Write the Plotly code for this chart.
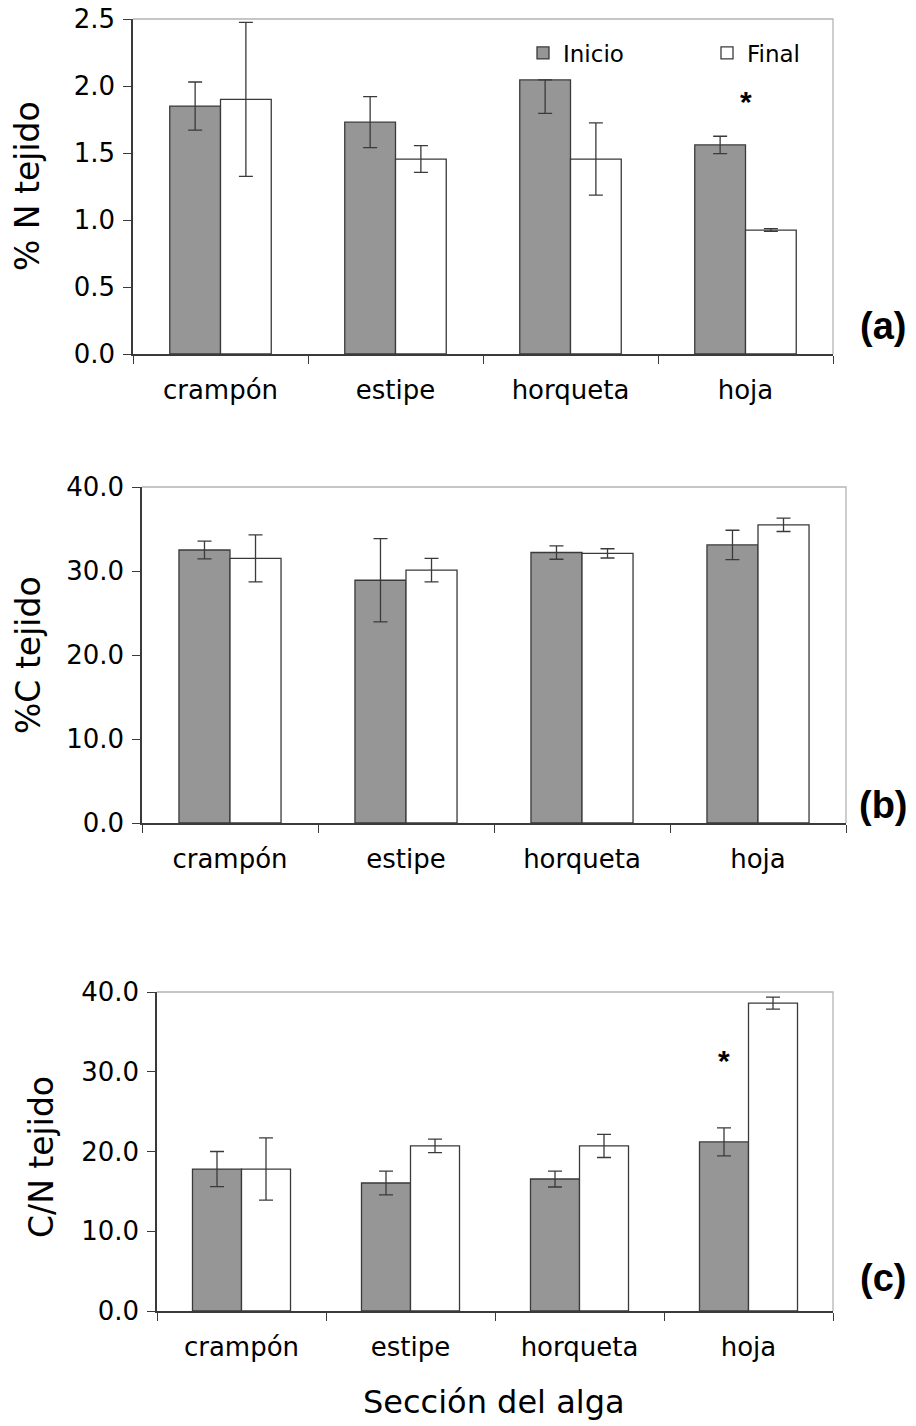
import plotly.graph_objects as go

# Sections of the alga
categories = ["crampón", "estipe", "horqueta", "hoja"]

# (a) % N in tissue
n_inicio = [1.85, 1.73, 2.045, 1.56]
n_inicio_err_plus = [0.18, 0.19, 0.0, 0.065]
n_inicio_err_minus = [0.18, 0.19, 0.25, 0.065]
n_final = [1.90, 1.455, 1.455, 0.925]
n_final_err = [0.575, 0.10, 0.27, 0.01]

# (b) % C in tissue
c_inicio = [32.5, 28.9, 32.2, 33.1]
c_inicio_err = [1.05, 4.95, 0.8, 1.75]
c_final = [31.5, 30.1, 32.1, 35.5]
c_final_err = [2.8, 1.4, 0.55, 0.8]

# (c) C/N ratio in tissue
cn_inicio = [17.8, 16.05, 16.55, 21.2]
cn_inicio_err = [2.2, 1.5, 1.0, 1.75]
cn_final = [17.8, 20.7, 20.7, 38.6]
cn_final_err = [3.9, 0.85, 1.45, 0.75]

W, H = 916, 1426
FONT = "DejaVu Sans"
DARK = "#3a3a3a"
GREY_FILL = "#969696"

# Plot areas in pixels: (left, top, right, bottom)
panels = [
    (133, 19, 833, 354),
    (142, 487, 846, 823),
    (157, 992, 833, 1311),
]


def xdom(p):
    return [p[0] / W, p[2] / W]


def ydom(p):
    return [1 - p[3] / H, 1 - p[1] / H]


fig = go.Figure()


def add_pair(idx, ini, ini_plus, ini_minus, fin, fin_err, show_legend):
    xa = "x" if idx == 1 else f"x{idx}"
    ya = "y" if idx == 1 else f"y{idx}"
    fig.add_trace(go.Bar(
        x=categories, y=ini, name="Inicio", xaxis=xa, yaxis=ya,
        marker=dict(color=GREY_FILL, line=dict(color=DARK, width=1.3)),
        error_y=dict(type="data", symmetric=False, array=ini_plus, arrayminus=ini_minus,
                     color=DARK, thickness=1.3, width=7),
        showlegend=show_legend, legendgroup="ini", offsetgroup="ini",
    ))
    fig.add_trace(go.Bar(
        x=categories, y=fin, name="Final", xaxis=xa, yaxis=ya,
        marker=dict(color="white", line=dict(color=DARK, width=1.3)),
        error_y=dict(type="data", array=fin_err, color=DARK, thickness=1.3, width=7),
        showlegend=show_legend, legendgroup="fin", offsetgroup="fin",
    ))


add_pair(1, n_inicio, n_inicio_err_plus, n_inicio_err_minus, n_final, n_final_err, True)
add_pair(2, c_inicio, c_inicio_err, c_inicio_err, c_final, c_final_err, False)
add_pair(3, cn_inicio, cn_inicio_err, cn_inicio_err, cn_final, cn_final_err, False)

y_ranges = [[0, 2.5], [0, 40], [0, 40]]
y_dticks = [0.5, 10, 10]

layout = dict(
    width=W, height=H,
    margin=dict(l=0, r=0, t=0, b=0, pad=0, autoexpand=False),
    paper_bgcolor="white", plot_bgcolor="white",
    barmode="group", bargap=0.42, bargroupgap=0,
    font=dict(family=FONT, color="black"),
    legend=dict(
        orientation="h", x=523 / W, y=1 - 53 / H, xanchor="left", yanchor="middle",
        font=dict(family=FONT, size=23, color="black"),
        entrywidth=139, entrywidthmode="pixels",
        bgcolor="rgba(0,0,0,0)", itemclick=False, tracegroupgap=0,
    ),
    shapes=[], annotations=[],
)

for i, p in enumerate(panels, start=1):
    xk = "xaxis" if i == 1 else f"xaxis{i}"
    yk = "yaxis" if i == 1 else f"yaxis{i}"
    ya = "y" if i == 1 else f"y{i}"
    xa = "x" if i == 1 else f"x{i}"
    layout[xk] = dict(
        domain=xdom(p), anchor=ya, type="category",
        showline=True, linecolor=DARK, linewidth=1.5,
        ticks="outside", tickson="boundaries", ticklen=8, tickcolor=DARK, tickwidth=1.3,
        tickfont=dict(family=FONT, size=26, color="black"),
        ticklabelstandoff=12, showgrid=False, zeroline=False, fixedrange=True,
    )
    layout[yk] = dict(
        domain=ydom(p), anchor=xa, range=y_ranges[i - 1], dtick=y_dticks[i - 1],
        tick0=0, tickformat=".1f",
        showline=True, linecolor=DARK, linewidth=1.5,
        ticks="outside", ticklen=8, tickcolor=DARK, tickwidth=1.3,
        tickfont=dict(family=FONT, size=26, color="black"),
        ticklabelstandoff=3, showgrid=False, zeroline=False, fixedrange=True,
    )
    # light frame on the top and right sides of each panel
    layout["shapes"].append(dict(
        type="path", xref="paper", yref="paper", layer="below",
        path=f"M {p[0]/W} {1-p[1]/H} L {p[2]/W} {1-p[1]/H} L {p[2]/W} {1-p[3]/H}",
        line=dict(color="#b4b4b4", width=1.3),
    ))

# Axis titles
titles = [("% N tejido", 27, 186), ("%C tejido", 28, 655), ("C/N tejido", 41, 1157)]
for text, px, py in titles:
    layout["annotations"].append(dict(
        text=text, xref="paper", yref="paper", x=px / W, y=1 - py / H,
        textangle=-90, showarrow=False, xanchor="center", yanchor="middle",
        font=dict(family=FONT, size=33, color="black"),
    ))

layout["annotations"].append(dict(
    text="Sección del alga", xref="paper", yref="paper", x=494 / W, y=1 - 1402 / H,
    showarrow=False, xanchor="center", yanchor="middle",
    font=dict(family=FONT, size=32, color="black"),
))

# Panel letters
for text, py in [("(a)", 326), ("(b)", 805), ("(c)", 1278)]:
    layout["annotations"].append(dict(
        text=f"<b>{text}</b>", xref="paper", yref="paper", x=883 / W, y=1 - py / H,
        showarrow=False, xanchor="center", yanchor="middle",
        font=dict(family="Liberation Sans", size=38, color="black"),
    ))

# Significance marks
layout["annotations"].append(dict(
    text="<b>*</b>", xref="x", yref="y", x="hoja", y=1.91,
    showarrow=False, xanchor="center", yanchor="middle", yshift=-3,
    font=dict(family="Liberation Sans", size=30, color="black"),
))
layout["annotations"].append(dict(
    text="<b>*</b>", xref="x3", yref="y3", x="hoja", y=31.6, xshift=-25,
    showarrow=False, xanchor="center", yanchor="middle", yshift=-2,
    font=dict(family="Liberation Sans", size=30, color="black"),
))

fig.update_layout(**layout)
fig.write_html("out.html")
